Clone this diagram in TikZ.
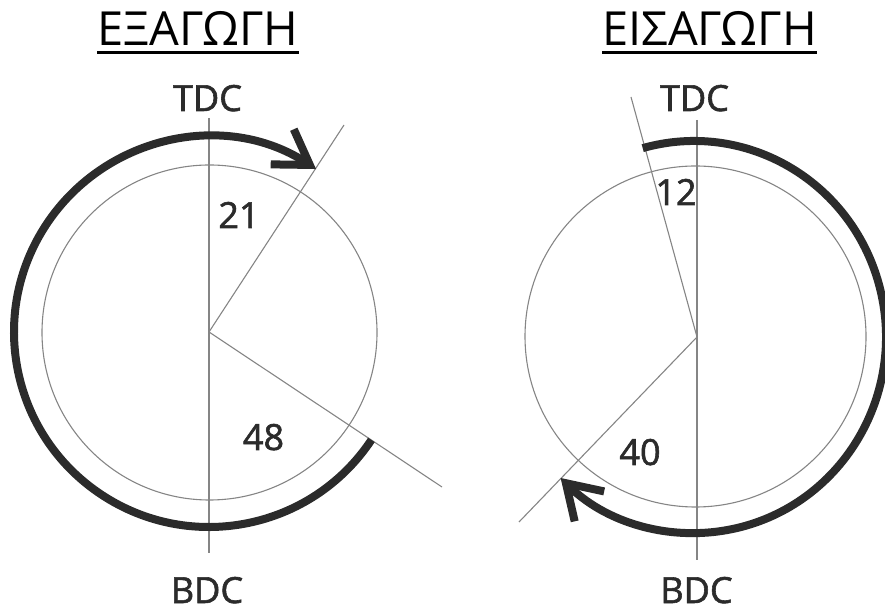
\documentclass[tikz,border=0pt]{standalone}
\usepackage{fontspec}
\setmainfont{Open Sans}
\newfontfamily\lblfont[FakeBold=1.6]{Open Sans}
\usetikzlibrary{arrows.meta}
\definecolor{ink}{HTML}{2B2B2B}
\definecolor{guidegray}{HTML}{858585}
\begin{document}
\begin{tikzpicture}[x=1pt,y=1pt,
  guide/.style={draw=guidegray, line width=1.1pt},
  heavy/.style={draw=ink, line width=8pt},
  barb/.style={-{Straight Barb[length=33pt,width=42pt]}},
  lbl/.style={font=\lblfont\fontsize{36}{36}\selectfont, text=ink, inner sep=0pt, anchor=base},
  ttl/.style={font=\fontsize{47}{47}\selectfont, text=black, inner sep=0pt, anchor=base},
  uline/.style={draw=black, line width=3pt}]
\useasboundingbox (0,0) rectangle (885,610);

% ---------- exhaust (left) ----------
\node[ttl] (ttlA) at (198,564) {ΕΞΑΓΩΓΗ};
\draw[uline] ([yshift=-7pt]ttlA.base west) -- ([yshift=-7pt]ttlA.base east);

\coordinate (o1) at (209,278);
\coordinate (t1) at (209,492);
\coordinate (b1) at (209,57);
\coordinate (u1) at (344,485);
\coordinate (d1) at (442,123);
\draw[guide] (t1) -- (b1);
\draw[guide] (o1) -- (u1);
\draw[guide] (o1) -- (d1);
\draw[guide] (209.5,277.5) circle[radius=167.5];
\draw[heavy, barb] ([shift={(-33.6:195)}]o1) arc[start angle=-33.6, end angle=-303.3, radius=195];

\node[lbl] (tdc1) at (207.5,499) {TDC};
\node[lbl] (bdc1) at (207,7) {BDC};
\node[lbl] (n21) at (239,382) {21};
\node[lbl] (n48) at (263.5,160) {48};

% ---------- intake (right) ----------
\node[ttl] (ttlB) at (709.5,564) {ΕΙΣΑΓΩΓΗ};
\draw[uline] ([yshift=-7pt]ttlB.base west) -- ([yshift=-7pt]ttlB.base east);

\coordinate (o2) at (697,273);
\coordinate (t2) at (697,490);
\coordinate (b2) at (697,50);
\coordinate (u2) at (631,513);
\coordinate (d2) at (519,88);
\draw[guide] (t2) -- (b2);
\draw[guide] (o2) -- (u2);
\draw[guide] (o2) -- (d2);
\draw[guide] (695.5,273.5) circle[radius=170.5];
\draw[heavy, barb] ([shift={(105.5:192 and 196)}]694,273) arc[start angle=105.5, end angle=-134, x radius=192, y radius=196];

\node[lbl] (tdc2) at (694.5,499) {TDC};
\node[lbl] (bdc2) at (696.5,7) {BDC};
\node[lbl] (n12) at (676,405) {12};
\node[lbl] (n40) at (640,145) {40};
\end{tikzpicture}
\end{document}
